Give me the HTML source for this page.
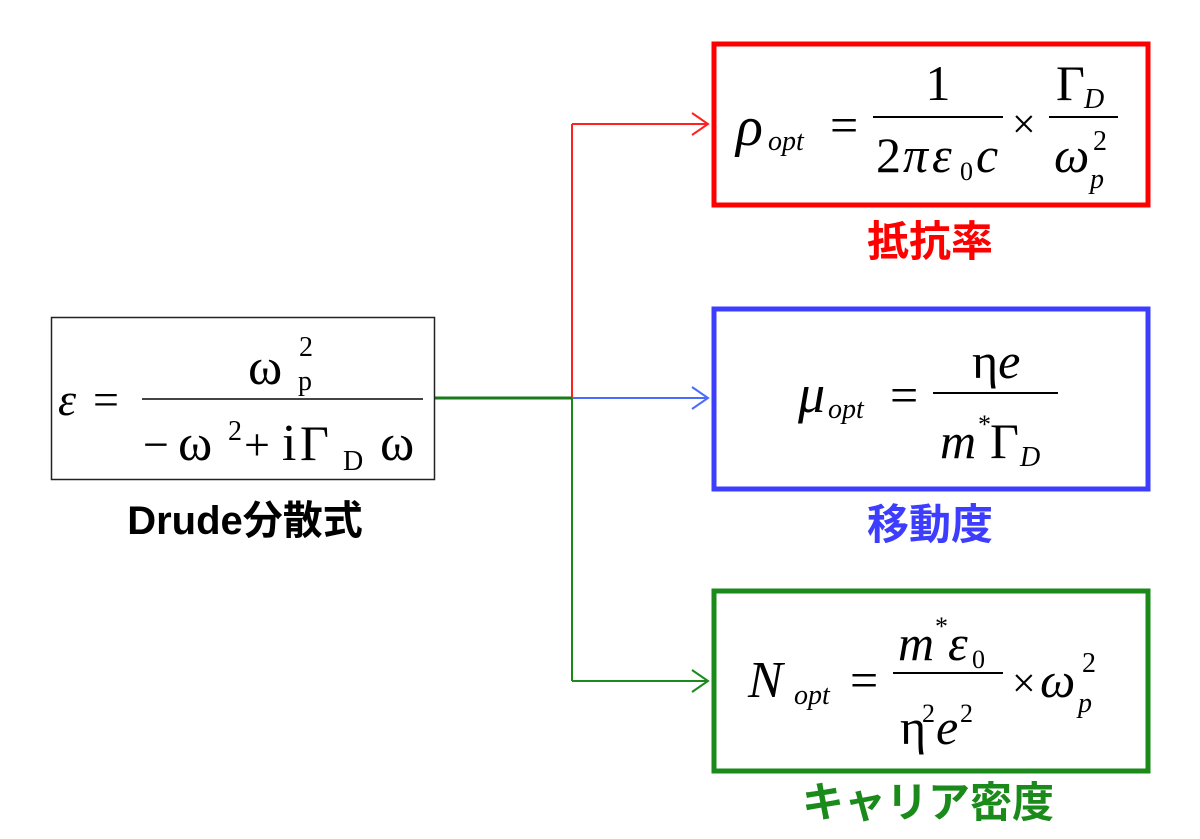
<!DOCTYPE html>
<html><head><meta charset="utf-8"><style>
html,body{margin:0;padding:0;background:#fff;}
svg{display:block}
.m{font-family:"Liberation Serif",serif;}
.i{font-style:italic;}
.j{font-family:"Liberation Sans","Noto Sans CJK JP",sans-serif;font-weight:bold;}
</style></head><body>
<svg width="1200" height="839" viewBox="0 0 1200 839" xmlns="http://www.w3.org/2000/svg">
<!-- connectors -->
<line x1="572" y1="124" x2="572" y2="398" stroke="#ff2020" stroke-width="2"/>
<line x1="572" y1="124" x2="708" y2="124" stroke="#ff2020" stroke-width="2"/>
<polyline points="692,113 708,124 692,135" fill="none" stroke="#ff2020" stroke-width="2"/>
<line x1="572" y1="398" x2="708" y2="398" stroke="#4a6bff" stroke-width="2"/>
<polyline points="692,387 708,398 692,409" fill="none" stroke="#4a6bff" stroke-width="2"/>
<line x1="572" y1="398" x2="572" y2="681" stroke="#1a8a1a" stroke-width="2"/>
<line x1="572" y1="681" x2="708" y2="681" stroke="#1a8a1a" stroke-width="2"/>
<polyline points="692,670 708,681 692,692" fill="none" stroke="#1a8a1a" stroke-width="2"/>
<line x1="435" y1="398" x2="572" y2="398" stroke="#1a7a1a" stroke-width="3"/>

<!-- left box -->
<rect x="51.5" y="317.5" width="383" height="162" fill="none" stroke="#222" stroke-width="1.5"/>
<text x="58" y="415" class="m i" font-size="46">ε</text>
<text x="93" y="415" class="m" font-size="46">=</text>
<line x1="142" y1="399" x2="423" y2="399" stroke="#444" stroke-width="2"/>
<text x="248" y="384" class="m" font-size="52">ω</text>
<text x="298" y="390" class="m" font-size="28">p</text>
<text x="299" y="356" class="m" font-size="28">2</text>
<text x="143" y="460" class="m" font-size="46">−</text>
<text x="178" y="460" class="m" font-size="52">ω</text>
<text x="228" y="440" class="m" font-size="28">2</text>
<text x="244" y="460" class="m" font-size="46">+</text>
<text x="282" y="460" class="m" font-size="52">i</text>
<text x="300" y="460" class="m" font-size="50">Γ</text>
<text x="343" y="470" class="m" font-size="28">D</text>
<text x="380" y="460" class="m" font-size="52">ω</text>
<text x="245" y="534" class="j" font-size="40" text-anchor="middle">Drude分散式</text>

<!-- red box -->
<rect x="714" y="44" width="434" height="161" fill="none" stroke="#ff0000" stroke-width="5"/>
<text x="736" y="145" class="m i" font-size="56">ρ</text>
<text x="768" y="150" class="m i" font-size="28">opt</text>
<text x="830" y="142" class="m" font-size="50">=</text>
<line x1="873" y1="117" x2="1003" y2="117" stroke="#000" stroke-width="2"/>
<text x="938" y="100" class="m" font-size="50" text-anchor="middle">1</text>
<text x="876" y="172" class="m" font-size="50">2</text>
<text x="903" y="172" class="m i" font-size="50">π</text>
<text x="932" y="172" class="m i" font-size="50">ε</text>
<text x="960" y="180" class="m" font-size="26">0</text>
<text x="976" y="172" class="m i" font-size="50">c</text>
<text x="1012" y="138" class="m" font-size="42">×</text>
<line x1="1049" y1="117" x2="1118" y2="117" stroke="#000" stroke-width="2"/>
<text x="1056" y="100" class="m" font-size="50">Γ</text>
<text x="1084" y="108" class="m i" font-size="28">D</text>
<text x="1054" y="172" class="m i" font-size="50">ω</text>
<text x="1090" y="188" class="m i" font-size="28">p</text>
<text x="1093" y="150" class="m" font-size="28">2</text>
<text x="930" y="256" class="j" font-size="42" fill="#ff0000" text-anchor="middle">抵抗率</text>

<!-- blue box -->
<rect x="714" y="309" width="434" height="180" fill="none" stroke="#3d3dff" stroke-width="5"/>
<text x="798" y="412" class="m i" font-size="54">μ</text>
<text x="828" y="418" class="m i" font-size="28">opt</text>
<text x="890" y="412" class="m" font-size="50">=</text>
<line x1="933" y1="393" x2="1058" y2="393" stroke="#000" stroke-width="2"/>
<text x="972" y="378" class="m" font-size="50">η<tspan class="i">e</tspan></text>
<text x="940" y="458" class="m i" font-size="50">m</text>
<text x="978" y="433" class="m" font-size="26">*</text>
<text x="990" y="458" class="m" font-size="50">Γ</text>
<text x="1020" y="466" class="m i" font-size="28">D</text>
<text x="930" y="539" class="j" font-size="42" fill="#3d3dff" text-anchor="middle">移動度</text>

<!-- green box -->
<rect x="714" y="591" width="434" height="180" fill="none" stroke="#1a8a1a" stroke-width="5"/>
<text x="748" y="697" class="m i" font-size="52">N</text>
<text x="794" y="704" class="m i" font-size="28">opt</text>
<text x="850" y="697" class="m" font-size="50">=</text>
<line x1="893" y1="673" x2="1003" y2="673" stroke="#000" stroke-width="2"/>
<text x="898" y="660" class="m i" font-size="50">m</text>
<text x="935" y="635" class="m" font-size="26">*</text>
<text x="948" y="660" class="m i" font-size="50">ε</text>
<text x="972" y="668" class="m" font-size="26">0</text>
<text x="900" y="744" class="m" font-size="50">η</text>
<text x="922" y="722" class="m" font-size="26">2</text>
<text x="936" y="744" class="m i" font-size="50">e</text>
<text x="960" y="722" class="m" font-size="26">2</text>
<text x="1012" y="697" class="m" font-size="42">×</text>
<text x="1040" y="697" class="m i" font-size="50">ω</text>
<text x="1078" y="712" class="m i" font-size="28">p</text>
<text x="1082" y="672" class="m" font-size="28">2</text>
<text x="928" y="817" class="j" font-size="42" fill="#1a8a1a" text-anchor="middle">キャリア密度</text>
</svg>
</body></html>
